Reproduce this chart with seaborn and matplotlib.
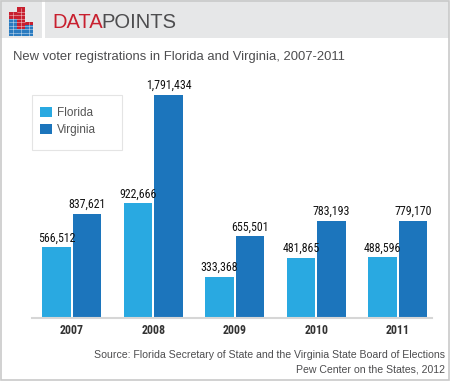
import matplotlib
matplotlib.use("Agg")
import matplotlib.pyplot as plt
from matplotlib.patches import Rectangle
from matplotlib import font_manager
import seaborn as sns
import pandas as pd

years = ["2007", "2008", "2009", "2010", "2011"]
florida = [566512, 922666, 333368, 481865, 488596]
virginia = [837621, 1791434, 655501, 783193, 779170]
series = ["Florida", "Virginia"]
colors = ["#29a9e1", "#1c75bc"]

title = "New voter registrations in Florida and Virginia, 2007-2011"
source1 = "Source: Florida Secretary of State and the Virginia State Board of Elections"
source2 = "Pew Center on the States, 2012"

df = pd.DataFrame({
    "year": years * 2,
    "value": florida + virginia,
    "state": [series[0]] * len(years) + [series[1]] * len(years),
})

sns.set_theme(style="white")
plt.rcParams["font.family"] = ["Liberation Sans", "DejaVu Sans"]

# look for a condensed face
names = sorted({f.name for f in font_manager.fontManager.ttflist})
cond = [n for n in names if ("Narrow" in n or "Condensed" in n)]
pref = ["Liberation Sans Narrow", "Roboto Condensed", "Open Sans Condensed", "DejaVu Sans Condensed"]
cond_family = None
for p in pref:
    if p in cond:
        cond_family = p
        break
if cond_family is None and cond:
    cond_family = cond[0]
stretch_fonts = [f for f in font_manager.fontManager.ttflist
                 if isinstance(f.stretch, str) and "condensed" in f.stretch]
if cond_family is None and stretch_fonts:
    cond_family = stretch_fonts[0].name

W, H = 450, 381
fig = plt.figure(figsize=(W / 100, H / 100), dpi=100)

def fx(px):
    return px / W

def fy(py):
    return 1 - py / H

# header
fig.patches.append(Rectangle((fx(0), fy(38)), fx(42), 38 / H, transform=fig.transFigure,
                             facecolor="#e6e7e8", edgecolor="none", zorder=0))
fig.patches.append(Rectangle((fx(45), fy(38)), fx(404), 38 / H, transform=fig.transFigure,
                             facecolor="#e6e7e8", edgecolor="none", zorder=0))
# logo
red = "#c8202f"
blue = "#2a7bc0"
cols = [(9, 12, 19.5), (17, 7.5, 29), (25, 22, 25)]
for x0, top, split in cols:
    fig.patches.append(Rectangle((fx(x0), fy(split)), fx(7.5), (split - top) / H,
                                 transform=fig.transFigure, facecolor=red, edgecolor="none", zorder=1))
    fig.patches.append(Rectangle((fx(x0), fy(36)), fx(7.5), (36 - split) / H,
                                 transform=fig.transFigure, facecolor=blue, edgecolor="none", zorder=1))
    gx = x0 + 3.75
    fig.add_artist(plt.Line2D([fx(gx), fx(gx)], [fy(36), fy(top)], transform=fig.transFigure,
                              color="white", lw=0.4, alpha=0.7, zorder=2))
    y = 36 - 3.5
    while y > top + 1:
        fig.add_artist(plt.Line2D([fx(x0), fx(x0 + 7.5)], [fy(y), fy(y)], transform=fig.transFigure,
                                  color="white", lw=0.4, alpha=0.7, zorder=2))
        y -= 3.5

fig.text(fx(52), fy(22), "DATA", color="#c8202f", fontsize=14.5, va="center", ha="left")
fig.text(fx(101), fy(22), "POINTS", color="#4d4d4f", fontsize=14.5, va="center", ha="left")

fig.text(fx(13), fy(57), title, color="#4d4d4f", fontsize=9.4, va="center", ha="left")

fig.text(fx(445), fy(354.5), source1, color="#4d4d4f", fontsize=7.6, va="center", ha="right")
fig.text(fx(445), fy(369), source2, color="#4d4d4f", fontsize=7.6, va="center", ha="right")

# border
fig.patches.append(Rectangle((fx(0.5), fy(380)), fx(448), 379.5 / H, transform=fig.transFigure,
                             facecolor="none", edgecolor="#c9c9c9", lw=1.2, zorder=5))

# legend box
fig.patches.append(Rectangle((fx(32), fy(150)), fx(90), 55 / H, transform=fig.transFigure,
                             facecolor="white", edgecolor="#e4e4e4", lw=0.8, zorder=3))

ax = fig.add_axes([fx(32), fy(318), fx(400), (318 - 60) / H])
ax.set_zorder(4)
sns.barplot(data=df, x="year", y="value", hue="state", palette=colors, width=0.75, gap=0.07,
            ax=ax, saturation=1, edgecolor="none")
ax.set_xlim(-0.49, 4.42)
ax.set_ylim(0, 2072600)
for s in ["top", "right", "left"]:
    ax.spines[s].set_visible(False)
ax.spines["bottom"].set_color("#d6d6d6")
ax.spines["bottom"].set_linewidth(1.5)
ax.set_yticks([])
ax.set_xlabel("")
ax.set_ylabel("")
ax.tick_params(axis="x", length=0, pad=4.5)

if cond_family:
    num_fam = [cond_family, "DejaVu Sans"]
    num_size = 8.6
    yr_size = 8.6
else:
    num_fam = ["Liberation Sans", "DejaVu Sans"]
    num_size = 7.5
    yr_size = 8

for lbl in ax.get_xticklabels():
    lbl.set_fontfamily(num_fam)
    lbl.set_fontweight("bold")
    lbl.set_fontsize(yr_size)
    lbl.set_color("#333333")
ax.patch.set_alpha(0)

for cont in ax.containers:
    ax.bar_label(cont, labels=[f"{v:,.0f}" for v in cont.datavalues], padding=2,
                 fontsize=num_size, color="#111111", fontfamily=num_fam)

handles, labels = ax.get_legend_handles_labels()
leg = ax.legend(handles, labels, loc="upper left", bbox_to_anchor=(fx(40), fy(106.5)),
                bbox_transform=fig.transFigure, frameon=False,
                handlelength=1.0, handleheight=1.0, handletextpad=0.45, labelspacing=0.42,
                borderpad=0, fontsize=8.5, labelcolor="#555555", borderaxespad=0)

fig.savefig("out.png", dpi=100)
